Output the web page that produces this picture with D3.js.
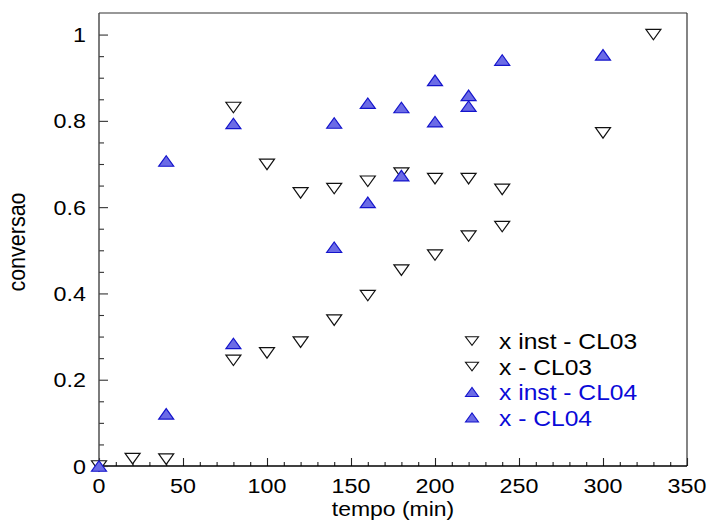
<!DOCTYPE html>
<html>
<head>
<meta charset="utf-8">
<script src="https://cdn.jsdelivr.net/npm/d3@7"></script>
<style>
  html, body { margin: 0; padding: 0; background: #fff; }
  svg { display: block; }
  text { font-family: "Liberation Sans", Arial, sans-serif; }
</style>
</head>
<body>
<svg id="chart" width="710" height="525"></svg>
<script>
// ---- data ----
const xInstCL03_t = [80, 100, 120, 140, 160, 180, 200, 220, 240];
const xInstCL03_v = [0.831, 0.699, 0.633, 0.643, 0.660, 0.679, 0.666, 0.666, 0.641];

const xCL03_t = [0, 20, 40, 80, 100, 120, 140, 160, 180, 200, 220, 240, 300, 330];
const xCL03_v = [0, 0.017, 0.016, 0.245, 0.262, 0.287, 0.338, 0.395, 0.454, 0.489, 0.533, 0.555, 0.772, 1.0];

const xInstCL04_t = [40, 80, 140, 160, 180, 200, 220, 240, 300];
const xInstCL04_v = [0.707, 0.794, 0.795, 0.841, 0.831, 0.894, 0.859, 0.941, 0.953];

const xCL04_t = [0, 40, 80, 140, 160, 180, 200, 220];
const xCL04_v = [0, 0.121, 0.284, 0.507, 0.611, 0.673, 0.798, 0.834];

const xTicks = [0, 50, 100, 150, 200, 250, 300, 350];
const yTicks = [0, 0.2, 0.4, 0.6, 0.8, 1];
const yTickLabels = ["0", "0.2", "0.4", "0.6", "0.8", "1"];

const legendLabels = ["x inst - CL03", "x - CL03", "x inst - CL04", "x - CL04"];
const xTitle = "tempo (min)";
const yTitle = "conversao";

// ---- layout ----
const svg = d3.select("#chart");
const L = 99, R = 687, T = 13, B = 466;
const x = d3.scaleLinear().domain([0, 350]).range([L, R]);
const y = d3.scaleLinear().domain([0, 1.05]).range([B, T]);

const blueFill = "#6b6be6";
const blueStroke = "#1414cc";

function txt(g, s, px, py, size, sx, anchor, color) {
  return g.append("text")
    .attr("transform", `translate(${px},${py}) scale(${sx},1)`)
    .attr("text-anchor", anchor)
    .attr("font-size", size)
    .attr("fill", color || "#000")
    .text(s);
}

// frame
svg.append("line").attr("x1", L).attr("x2", R).attr("y1", T).attr("y2", T)
  .attr("stroke", "#333").attr("stroke-width", 1.2);
svg.append("line").attr("x1", R).attr("x2", R).attr("y1", T).attr("y2", B)
  .attr("stroke", "#333").attr("stroke-width", 1.2);

// x axis: minor + major ticks pointing inward
const xMinor = d3.range(0, 351, 10).filter(v => v % 50 !== 0);
const gx = svg.append("g").attr("transform", `translate(0,${B})`);
gx.call(d3.axisBottom(x).tickValues(xMinor).tickSize(-4).tickFormat(""))
  .call(g => g.select(".domain").remove());
gx.append("g").call(d3.axisBottom(x).tickValues(xTicks).tickSize(-8).tickFormat(""))
  .call(g => g.select(".domain").remove());
gx.selectAll("line").attr("stroke", "#222").attr("stroke-width", 1.1);
svg.append("line").attr("x1", L).attr("x2", R).attr("y1", B).attr("y2", B)
  .attr("stroke", "#000").attr("stroke-width", 1.4);

// y axis
const yMinor = d3.range(0, 21).map(i => i * 0.05).filter((v, i) => i % 4 !== 0);
const gy = svg.append("g").attr("transform", `translate(${L},0)`);
gy.call(d3.axisLeft(y).tickValues(yMinor).tickSize(-5).tickFormat(""))
  .call(g => g.select(".domain").remove());
gy.append("g").call(d3.axisLeft(y).tickValues(yTicks).tickSize(-9).tickFormat(""))
  .call(g => g.select(".domain").remove());
gy.selectAll("line").attr("stroke", "#333").attr("stroke-width", 1.1);
svg.append("line").attr("x1", L).attr("x2", L).attr("y1", T).attr("y2", B)
  .attr("stroke", "#444").attr("stroke-width", 1.4);

// tick labels
const labels = svg.append("g");
xTicks.forEach(v => txt(labels, String(v), x(v), 493, 21, 1.11, "middle"));
yTicks.forEach((v, i) => txt(labels, yTickLabels[i], 86, y(v) + 7.5, 21, 1.11, "end"));

// axis titles
txt(svg, xTitle, 393, 516, 20.5, 1.12, "middle");
svg.append("text")
  .attr("transform", `translate(25,242) scale(1.15,1) rotate(-90)`)
  .attr("text-anchor", "middle")
  .attr("font-size", 21.5)
  .text(yTitle);

// markers
function downPath(w, h) { return `M${-w/2},${-h/2}L${w/2},${-h/2}L0,${h/2}Z`; }
function upPath(w, h) { return `M${-w/2},${h/2}L${w/2},${h/2}L0,${-h/2}Z`; }

function plot(ts, vs, path, fill, stroke) {
  svg.append("g").selectAll("path")
    .data(ts.map((t, i) => [t, vs[i]]))
    .join("path")
    .attr("transform", d => `translate(${x(d[0])},${y(d[1])})`)
    .attr("d", path)
    .attr("fill", fill)
    .attr("stroke", stroke)
    .attr("stroke-width", 1.2)
    .attr("stroke-linejoin", "miter");
}

plot(xInstCL03_t, xInstCL03_v, downPath(15, 10.5), "#fff", "#111");
plot(xCL03_t, xCL03_v, downPath(15, 10.5), "#fff", "#111");
plot(xInstCL04_t, xInstCL04_v, upPath(15, 10.5), blueFill, blueStroke);
plot(xCL04_t, xCL04_v, upPath(15, 10.5), blueFill, blueStroke);

// legend
const leg = svg.append("g");
const legY = [341, 366.5, 392, 417.5];
const legIsBlue = [false, false, true, true];
legendLabels.forEach((s, i) => {
  leg.append("path")
    .attr("transform", `translate(472,${legY[i]})`)
    .attr("d", legIsBlue[i] ? upPath(13, 9) : downPath(13, 8.5))
    .attr("fill", legIsBlue[i] ? blueFill : "#fff")
    .attr("stroke", legIsBlue[i] ? blueStroke : "#111")
    .attr("stroke-width", 1.1);
  txt(leg, s, 499, legY[i] + 8, 22, 1.12, "start", legIsBlue[i] ? "#0a0ad8" : "#000");
});
</script>
</body>
</html>
